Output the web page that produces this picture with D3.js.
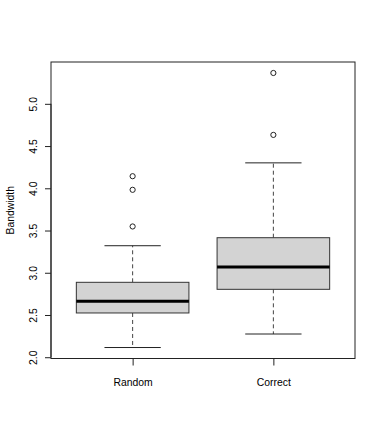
<!DOCTYPE html>
<html>
<head>
<meta charset="utf-8">
<script src="https://cdn.jsdelivr.net/npm/d3@7"></script>
<style>
  body { margin: 0; background: #fff; }
  text { font-family: "Liberation Sans", Arial, sans-serif; font-size: 10.4px; fill: #000; }
</style>
</head>
<body>
<div id="chart"></div>
<script>
// groups shown on the x axis
const groups = ["Random", "Correct"];
// five number summaries
const lowWhisker = [2.115, 2.275];
const q1 = [2.524, 2.804];
const median = [2.662, 3.068];
const q3 = [2.887, 3.415];
const highWhisker = [3.320, 4.301];
// outliers per group
const outRandom = [3.548, 3.982, 4.143];
const outCorrect = [4.632, 5.365];
const outliers = [outRandom, outCorrect];
const yTicks = [2.0, 2.5, 3.0, 3.5, 4.0, 4.5, 5.0];
const yLabel = "Bandwidth";

const width = 382, height = 436;
const plotL = 51, plotR = 355, plotT = 62, plotB = 358.5;

const svg = d3.select("#chart").append("svg")
  .attr("width", width)
  .attr("height", height);

// R style 4% padding on the data range
const allVals = lowWhisker.concat(highWhisker, outRandom, outCorrect);
const ymin = d3.min(allVals), ymax = d3.max(allVals);
const pad = (ymax - ymin) * 0.04;
const y = d3.scaleLinear().domain([ymin - pad, ymax + pad]).range([plotB, plotT]);
const x = d3.scaleLinear().domain([0.42, groups.length + 0.58]).range([plotL, plotR]);

const bw = 0.4;   // half box width in group units
const sw = 0.2;   // half staple width

const data = groups.map((g, i) => ({
  name: g, pos: i + 1,
  lo: lowWhisker[i], q1: q1[i], med: median[i], q3: q3[i], hi: highWhisker[i],
  out: outliers[i]
}));

const box = svg.selectAll(".box").data(data).enter().append("g").attr("class", "box");

// dashed whiskers
box.append("line")
  .attr("x1", d => x(d.pos)).attr("x2", d => x(d.pos))
  .attr("y1", d => y(d.q3)).attr("y2", d => y(d.hi))
  .attr("stroke", "#444").attr("stroke-dasharray", "4,3");
box.append("line")
  .attr("x1", d => x(d.pos)).attr("x2", d => x(d.pos))
  .attr("y1", d => y(d.q1)).attr("y2", d => y(d.lo))
  .attr("stroke", "#444").attr("stroke-dasharray", "4,3");

// staples
box.selectAll(".staple").data(d => [[d.pos, d.lo], [d.pos, d.hi]]).enter().append("line")
  .attr("x1", d => x(d[0] - sw)).attr("x2", d => x(d[0] + sw))
  .attr("y1", d => y(d[1])).attr("y2", d => y(d[1]))
  .attr("stroke", "#222");

// boxes
box.append("rect")
  .attr("x", d => x(d.pos - bw))
  .attr("width", d => x(d.pos + bw) - x(d.pos - bw))
  .attr("y", d => y(d.q3))
  .attr("height", d => y(d.q1) - y(d.q3))
  .attr("fill", "#d3d3d3")
  .attr("stroke", "#333");

// medians
box.append("line")
  .attr("x1", d => x(d.pos - bw)).attr("x2", d => x(d.pos + bw))
  .attr("y1", d => y(d.med)).attr("y2", d => y(d.med))
  .attr("stroke", "#000").attr("stroke-width", 3);

// outliers
box.selectAll("circle").data(d => d.out.map(v => [d.pos, v])).enter().append("circle")
  .attr("cx", d => x(d[0])).attr("cy", d => y(d[1]))
  .attr("r", 2.6)
  .attr("fill", "none").attr("stroke", "#222");

// frame
svg.append("rect")
  .attr("x", plotL).attr("y", plotT)
  .attr("width", plotR - plotL).attr("height", plotB - plotT)
  .attr("fill", "none").attr("stroke", "#222");

// y axis
const yAxis = svg.append("g").attr("transform", `translate(${plotL},0)`)
  .call(d3.axisLeft(y).tickValues(yTicks).tickSize(6).tickFormat(d3.format(".1f")));
yAxis.select(".domain").attr("stroke", "#222")
  .attr("d", `M0,${y(2)}V${y(5)}`);
yAxis.selectAll(".tick line").attr("stroke", "#222");
yAxis.selectAll(".tick text")
  .attr("x", 0)
  .attr("transform", "translate(-17.5,0) rotate(-90)")
  .attr("text-anchor", "middle")
  .attr("dy", "0.36em")
  .style("font-family", "Liberation Sans, Arial, sans-serif")
  .style("font-size", "10.4px");

// x axis
const xAxis = svg.append("g").attr("transform", `translate(0,${plotB})`)
  .call(d3.axisBottom(x).tickValues(data.map(d => d.pos)).tickSize(7)
    .tickFormat((d, i) => groups[i]));
xAxis.select(".domain").remove();
xAxis.selectAll(".tick line").attr("stroke", "#222");
xAxis.selectAll(".tick text")
  .attr("y", 23.5).attr("dy", "0.36em")
  .style("font-family", "Liberation Sans, Arial, sans-serif")
  .style("font-size", "10.4px");

// y label
svg.append("text")
  .attr("transform", `translate(10.5,${(plotT + plotB) / 2}) rotate(-90)`)
  .attr("text-anchor", "middle")
  .attr("dy", "0.36em")
  .text(yLabel);
</script>
</body>
</html>
